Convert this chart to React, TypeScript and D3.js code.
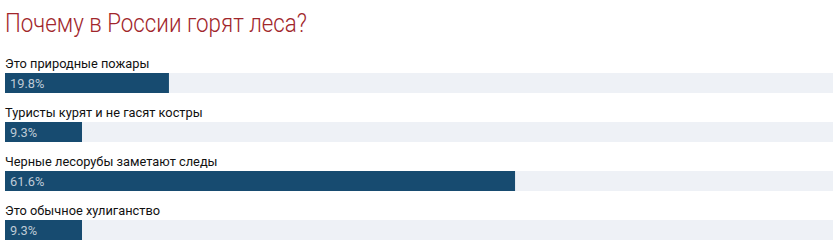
import React from "react";
import * as d3 from "d3";

const title = "Почему в России горят леса?";
const categories = [
  "Это природные пожары",
  "Туристы курят и не гасят костры",
  "Черные лесорубы заметают следы",
  "Это обычное хулиганство",
];
const values = [19.8, 9.3, 61.6, 9.3];

const W = 839;
const H = 249;

export default function App() {
  const x = d3.scaleLinear().domain([0, 100]).range([5, 833]);
  const y = d3
    .scaleBand<number>()
    .domain(d3.range(categories.length))
    .range([73, 73 + 49 * categories.length])
    .paddingInner(0)
    .paddingOuter(0);
  const barH = 20;
  return (
    <svg
      width={W}
      height={H}
      style={{ position: "absolute", left: 0, top: 0, fontFamily: "Roboto" }}
    >
      <rect width={W} height={H} fill="#ffffff" />
      <text
        x={5}
        y={32}
        fontSize={26}
        fontWeight={300}
        fill="#a1262b"
        textLength={302}
        lengthAdjust="spacingAndGlyphs"
      >
        {title}
      </text>
      {categories.map((c, i) => {
        const top = y(i)!;
        return (
          <g key={c}>
            <text x={5} y={top - 5.5} fontSize={12.8} fill="#111">
              {c}
            </text>
            <rect x={x(0)} y={top} width={x(100) - x(0)} height={barH} fill="#eef1f6" />
            <rect x={x(0)} y={top} width={x(values[i]) - x(0)} height={barH} fill="#174b70" />
            <text x={10} y={top + 14.5} fontSize={12.8} fill="#bfcad6">
              {values[i].toFixed(1)}%
            </text>
          </g>
        );
      })}
    </svg>
  );
}
